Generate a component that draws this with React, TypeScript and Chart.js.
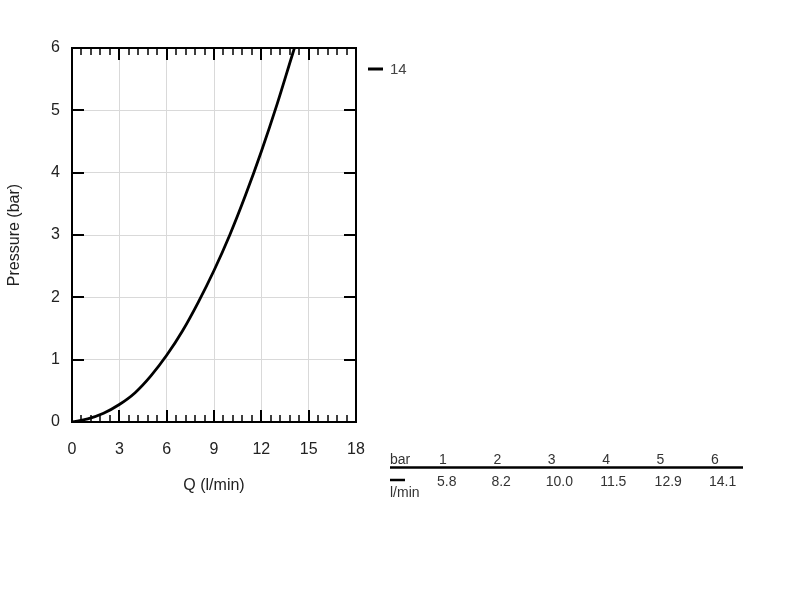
import React, { useEffect, useRef } from "react";
import { Chart, registerables } from "chart.js";

Chart.register(...registerables);

const flowQ = [0, 1, 2, 3, 4, 5, 6, 7, 8, 9, 10, 11, 12, 13, 14, 14.1];
const pressureP = [0, 0.05, 0.14, 0.28, 0.47, 0.74, 1.07, 1.46, 1.92, 2.43, 3.0, 3.64, 4.34, 5.1, 5.92, 6];
const seriesLabel = "14";
const tableBar = ["1", "2", "3", "4", "5", "6"];
const tableFlow = ["5.8", "8.2", "10.0", "11.5", "12.9", "14.1"];
const xTitle = "Q (l/min)";
const yTitle = "Pressure (bar)";

const FONT = "'Liberation Sans', Arial, sans-serif";

const framePlugin = {
  id: "frameAndTable",
  afterDraw(chart: any) {
    const ctx = chart.ctx;
    const { left, right, top, bottom } = chart.chartArea;
    const xs = chart.scales.x;
    const ys = chart.scales.y;
    ctx.save();
    // frame
    ctx.strokeStyle = "#000";
    ctx.lineWidth = 2;
    ctx.strokeRect(left, top, right - left, bottom - top);
    // x ticks top & bottom
    for (let i = 0; i <= 30; i++) {
      const v = i * 0.6;
      const px = Math.round(xs.getPixelForValue(v));
      const major = i % 5 === 0;
      const len = major ? 12 : 7;
      ctx.lineWidth = major ? 2 : 1.5;
      ctx.beginPath();
      ctx.moveTo(px, top);
      ctx.lineTo(px, top + len);
      ctx.moveTo(px, bottom);
      ctx.lineTo(px, bottom - len);
      ctx.stroke();
    }
    // y ticks left & right
    for (let v = 0; v <= 6; v++) {
      const py = Math.round(ys.getPixelForValue(v));
      ctx.lineWidth = 2;
      ctx.beginPath();
      ctx.moveTo(left, py);
      ctx.lineTo(left + 12, py);
      ctx.moveTo(right, py);
      ctx.lineTo(right - 12, py);
      ctx.stroke();
    }
    // legend
    ctx.lineWidth = 3;
    ctx.beginPath();
    ctx.moveTo(368, 69);
    ctx.lineTo(383, 69);
    ctx.stroke();
    ctx.fillStyle = "#444";
    ctx.font = "15px " + FONT;
    ctx.textBaseline = "middle";
    ctx.textAlign = "left";
    ctx.fillText(seriesLabel, 390, 70);
    // table
    ctx.fillStyle = "#333";
    ctx.font = "14px " + FONT;
    ctx.fillText("bar", 390, 460);
    ctx.lineWidth = 2.5;
    ctx.strokeStyle = "#000";
    ctx.beginPath();
    ctx.moveTo(390, 467.5);
    ctx.lineTo(743, 467.5);
    ctx.stroke();
    ctx.lineWidth = 2.5;
    ctx.beginPath();
    ctx.moveTo(390, 480);
    ctx.lineTo(405, 480);
    ctx.stroke();
    ctx.fillText("l/min", 390, 493);
    for (let i = 0; i < tableBar.length; i++) {
      const cx = 437 + 54.4 * i;
      ctx.fillText(tableBar[i], cx + 2, 460);
      ctx.fillText(tableFlow[i], cx, 482);
    }
    ctx.restore();
  },
};

export default function App() {
  const ref = useRef<HTMLCanvasElement | null>(null);
  useEffect(() => {
    if (!ref.current) return;
    const chart = new Chart(ref.current, {
      type: "line",
      data: {
        datasets: [
          {
            label: seriesLabel,
            data: flowQ.map((q, i) => ({ x: q, y: pressureP[i] })),
            borderColor: "#000",
            borderWidth: 2.8,
            pointRadius: 0,
            fill: false,
            cubicInterpolationMode: "monotone",
          },
        ],
      },
      options: {
        animation: false,
        responsive: false,
        events: [],
        layout: { padding: { top: 48, right: 444, bottom: 98, left: 0 } },
        plugins: { legend: { display: false }, tooltip: { enabled: false } },
        scales: {
          x: {
            type: "linear",
            min: 0,
            max: 18,
            ticks: { stepSize: 3, padding: 18, color: "#222", font: { size: 16, family: FONT } },
            grid: { color: "#d9d9d9", lineWidth: 1, drawTicks: false },
            border: { display: false },
            title: {
              display: true,
              text: xTitle,
              color: "#222",
              font: { size: 16, family: FONT },
              padding: { top: 4, bottom: 7 },
            },
            afterFit: (s: any) => {
              s.height = 80;
            },
          },
          y: {
            type: "linear",
            min: 0,
            max: 6,
            ticks: { stepSize: 1, padding: 12, color: "#222", font: { size: 16, family: FONT } },
            grid: { color: "#d9d9d9", lineWidth: 1, drawTicks: false },
            border: { display: false },
            title: {
              display: true,
              text: yTitle,
              color: "#222",
              font: { size: 16, family: FONT },
              padding: { top: 5, bottom: 0 },
            },
            afterFit: (s: any) => {
              s.width = 72;
            },
          },
        },
      },
      plugins: [framePlugin],
    });
    return () => chart.destroy();
  }, []);
  return (
    <canvas
      ref={ref}
      width={800}
      height={600}
      style={{ position: "absolute", left: 0, top: 0, width: 800, height: 600, display: "block" }}
    />
  );
}
